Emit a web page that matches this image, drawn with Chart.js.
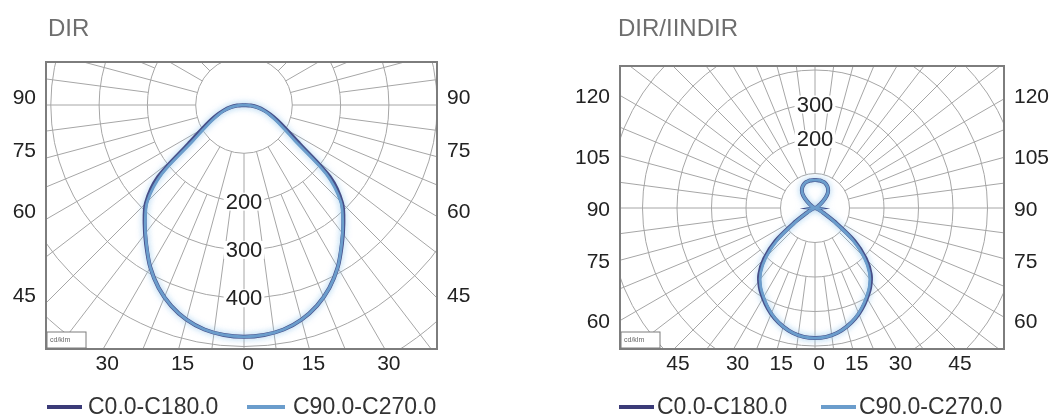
<!DOCTYPE html>
<html>
<head>
<meta charset="utf-8">
<script src="https://cdn.jsdelivr.net/npm/chart.js@4.4.1/dist/chart.umd.min.js"></script>
<style>
  body { margin: 0; background: #fff; font-family: "Liberation Sans", Arial, sans-serif; }
  #wrap { position: relative; width: 1061px; height: 418px; overflow: hidden; }
  .panel { position: absolute; top: 0; width: 530px; height: 418px; }
  .title { position: absolute; top: 16px; font-size: 24px; line-height: 24px; color: #6e6e6e; white-space: nowrap; }
  .lg-line { position: absolute; top: 405px; height: 3.5px; }
  .lg-text { position: absolute; top: 395px; font-size: 23px; line-height: 23px; color: #333; white-space: nowrap; }
</style>
</head>
<body>
<div id="wrap">
  <div class="panel" id="panelDir" style="left:0"><canvas id="chartDir" width="530" height="418"></canvas></div>
  <div class="panel" id="panelIndir" style="left:531px"><canvas id="chartIndir" width="530" height="418"></canvas></div>
</div>
<script>
// series (cd/klm), one half of each C-plane pair, gamma measured from straight down
const seriesNames = ['C0.0-C180.0', 'C90.0-C270.0'];
const seriesColors = ['#3b3b78', '#6b9dcc'];

const dirTitle = 'DIR';
const dirGamma = [0, 5, 10, 15, 20, 25, 30, 35, 40, 45, 50, 55, 60, 65, 70, 75, 80, 85, 90];
const dirC0    = [480, 478, 472, 460, 442, 418, 388, 353, 320, 287, 232, 140, 100, 76, 58, 43, 29, 14, 0];
const dirC90   = [480, 478, 472, 460, 442, 418, 388, 352, 318, 283, 222, 128, 92, 70, 54, 41, 28, 14, 0];
const dirSideTicks = [90, 75, 60, 45];
const dirBottomTicks = [-30, -15, 0, 15, 30];
const dirRingLabels = [200, 300, 400];

const indirTitle = 'DIR/IINDIR';
const indirGamma = [0, 5, 10, 15, 20, 25, 30, 35, 40, 45, 50, 55, 60, 65, 70, 75, 80, 85, 90,
                    95, 100, 105, 110, 115, 120, 125, 130, 135, 140, 145, 150, 155, 160, 165, 170, 175, 180];
const indirC0  = [377, 375, 368, 356, 341, 322, 301, 279, 251, 208, 150, 70, 28, 13, 6, 3, 2, 1, 0,
                  0, 1, 2, 3, 6, 10, 18, 30, 45, 58, 66, 72, 76, 79, 80, 81, 81, 81];
const indirC90 = [377, 375, 368, 356, 340, 320, 298, 275, 245, 200, 140, 62, 25, 12, 6, 3, 2, 1, 0,
                  0, 1, 2, 3, 6, 10, 18, 30, 45, 58, 66, 72, 76, 79, 80, 81, 81, 81];
const indirSideTicks = [120, 105, 90, 75, 60];
const indirBottomTicks = [-45, -30, -15, 0, 15, 30, 45];
const indirRingLabels = [200, 300];

const rad = Math.PI / 180;
const tickFont = { family: '"Liberation Sans", Arial, sans-serif', size: 21 };

function outline(gamma, vals) {
  const pts = [];
  for (let i = gamma.length - 1; i >= 0; i--) {
    pts.push({ x: -vals[i] * Math.sin(gamma[i] * rad), y: -vals[i] * Math.cos(gamma[i] * rad) });
  }
  for (let i = 1; i < gamma.length; i++) {
    pts.push({ x: vals[i] * Math.sin(gamma[i] * rad), y: -vals[i] * Math.cos(gamma[i] * rad) });
  }
  return pts;
}

const polarGrid = {
  id: 'polarGrid',
  beforeDatasetsDraw(chart, args, opts) {
    const { ctx, chartArea: a, scales: { x, y } } = chart;
    const cx = x.getPixelForValue(0), cy = y.getPixelForValue(0);
    const k = (x.getPixelForValue(100) - cx) / 100;
    ctx.save();
    ctx.beginPath();
    ctx.rect(a.left, a.top, a.right - a.left, a.bottom - a.top);
    ctx.clip();
    ctx.strokeStyle = '#a6a6a6';
    ctx.lineWidth = 1;
    for (let r = 100; r <= opts.maxRing; r += 100) {
      ctx.beginPath();
      ctx.arc(cx, cy, r * k, 0, 2 * Math.PI);
      ctx.stroke();
    }
    const far = (opts.maxRing + 200) * k;
    for (let g = 0; g < 360; g += 7.5) {
      const r0 = (g % 15 === 0 ? 100 : 200) * k;
      const sx = Math.sin(g * rad), sy = Math.cos(g * rad);
      ctx.beginPath();
      ctx.moveTo(cx + sx * r0, cy + sy * r0);
      ctx.lineTo(cx + sx * far, cy + sy * far);
      ctx.stroke();
    }
    ctx.font = '22px "Liberation Sans", Arial, sans-serif';
    ctx.textAlign = 'center';
    ctx.textBaseline = 'middle';
    opts.ringLabels.forEach(v => {
      const py = cy + opts.ringDir * v * k;
      const w = ctx.measureText(String(v)).width;
      ctx.fillStyle = '#fff';
      ctx.fillRect(cx - w / 2 - 2, py - 9, w + 4, 18);
      ctx.fillStyle = '#222';
      ctx.fillText(String(v), cx, py + 1);
    });
    ctx.restore();
  },
  beforeDatasetDraw(chart) {
    const ctx = chart.ctx;
    ctx.save();
    ctx.shadowColor = 'rgba(140, 195, 235, 0.55)';
    ctx.shadowBlur = 6;
  },
  afterDatasetDraw(chart) {
    chart.ctx.restore();
  },
  afterDraw(chart) {
    const { ctx, chartArea: a } = chart;
    ctx.save();
    ctx.strokeStyle = '#7d7d7d';
    ctx.lineWidth = 2;
    ctx.strokeRect(a.left, a.top, a.right - a.left, a.bottom - a.top);
    ctx.lineWidth = 1;
    ctx.fillStyle = '#fff';
    ctx.fillRect(a.left + 1, a.bottom - 17, 39, 16);
    ctx.strokeRect(a.left + 1, a.bottom - 17, 39, 16);
    ctx.fillStyle = '#666';
    ctx.font = '7px "Liberation Sans", Arial, sans-serif';
    ctx.textAlign = 'left';
    ctx.textBaseline = 'middle';
    ctx.fillText('cd/klm', a.left + 4, a.bottom - 9);
    ctx.restore();
  }
};

function makeChart(canvasId, spec) {
  const { box, k, gamma, c0, c90, sideTicks, bottomTicks, sideOffset } = spec;
  const xMin = -(box.cx - box.left) / k, xMax = (box.right - box.cx) / k;
  const yMax = (box.cy - box.top) / k, yMin = -(box.bottom - box.cy) / k;
  const sideValues = sideTicks.map(a => xMin * Math.cos(a * rad) / Math.sin(a * rad));
  const axisBase = {
    type: 'linear',
    grid: { display: false, drawTicks: false },
    border: { display: false }
  };
  return new Chart(document.getElementById(canvasId), {
    type: 'scatter',
    data: {
      datasets: [
        { label: seriesNames[0], data: outline(gamma, c0), showLine: true, pointRadius: 0,
          borderColor: seriesColors[0], borderWidth: 4, tension: 0.3, order: 1 },
        { label: seriesNames[1], data: outline(gamma, c90), showLine: true, pointRadius: 0,
          borderColor: seriesColors[1], borderWidth: 2.8, tension: 0.3, order: 0 }
      ]
    },
    options: {
      responsive: false,
      animation: false,
      events: [],
      layout: { padding: { top: box.top, bottom: 418 - box.bottom - 30, left: 0, right: 0 } },
      plugins: {
        legend: { display: false },
        tooltip: { enabled: false },
        polarGrid: { maxRing: spec.maxRing, ringLabels: spec.ringLabels, ringDir: spec.ringDir }
      },
      scales: {
        x: {
          ...axisBase, position: 'bottom', min: xMin, max: xMax,
          afterBuildTicks: s => { s.ticks = bottomTicks.map(a => ({ value: -yMin * Math.tan(a * rad) })); },
          afterFit: s => { s.height = 30; },
          ticks: { autoSkip: false, maxRotation: 0, padding: 3, labelOffset: 4, font: tickFont, color: '#222',
                   callback: (v, i) => String(Math.abs(bottomTicks[i])) }
        },
        y: {
          ...axisBase, position: 'left', min: yMin, max: yMax,
          afterBuildTicks: s => { s.ticks = sideValues.map(v => ({ value: v })); },
          afterFit: s => { s.width = box.left; },
          ticks: { autoSkip: false, padding: 10, labelOffset: sideOffset, font: tickFont, color: '#222',
                   callback: (v, i) => String(sideTicks[i]) }
        },
        y2: {
          ...axisBase, position: 'right', min: yMin, max: yMax,
          afterBuildTicks: s => { s.ticks = sideValues.map(v => ({ value: v })); },
          afterFit: s => { s.width = 530 - box.right; },
          ticks: { autoSkip: false, padding: 10, labelOffset: sideOffset, font: tickFont, color: '#222',
                   callback: (v, i) => String(sideTicks[i]) }
        }
      }
    },
    plugins: [polarGrid]
  });
}

function addLabels(panelId, title, titleX, legendPos) {
  const panel = document.getElementById(panelId);
  const t = document.createElement('div');
  t.className = 'title';
  t.style.left = titleX + 'px';
  t.textContent = title;
  panel.appendChild(t);
  legendPos.forEach((p, i) => {
    const line = document.createElement('div');
    line.className = 'lg-line';
    line.style.left = p[0] + 'px';
    line.style.width = p[1] + 'px';
    line.style.background = seriesColors[i];
    panel.appendChild(line);
    const txt = document.createElement('div');
    txt.className = 'lg-text';
    txt.style.left = p[2] + 'px';
    txt.textContent = seriesNames[i];
    panel.appendChild(txt);
  });
}

makeChart('chartDir', {
  box: { cx: 244, cy: 105, left: 46, right: 437, top: 62, bottom: 349 }, k: 0.483,
  gamma: dirGamma, c0: dirC0, c90: dirC90,
  sideTicks: dirSideTicks, bottomTicks: dirBottomTicks, sideOffset: -7,
  maxRing: 700, ringLabels: dirRingLabels, ringDir: 1
});
makeChart('chartIndir', {
  box: { cx: 284, cy: 208, left: 89, right: 473, top: 66, bottom: 349 }, k: 0.345,
  gamma: indirGamma, c0: indirC0, c90: indirC90,
  sideTicks: indirSideTicks, bottomTicks: indirBottomTicks, sideOffset: 2,
  maxRing: 800, ringLabels: indirRingLabels, ringDir: -1
});

addLabels('panelDir', dirTitle, 48, [[47, 35, 88], [247, 38, 293]]);
addLabels('panelIndir', indirTitle, 87, [[88, 35, 126], [290, 35, 328]]);
</script>
</body>
</html>
